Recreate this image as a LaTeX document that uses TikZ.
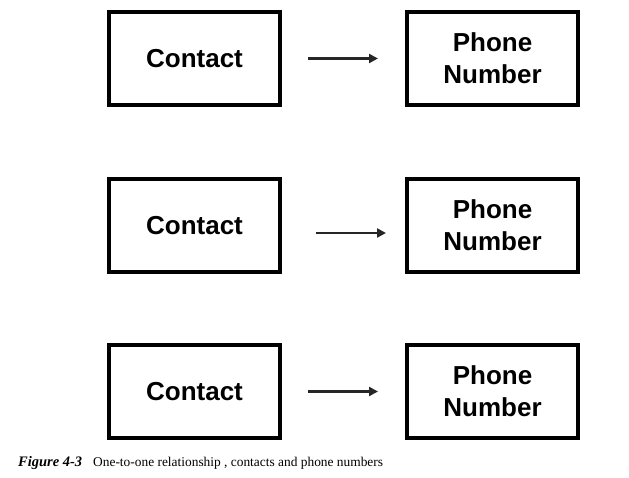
\documentclass[tikz,border=0pt]{standalone}
\usepackage{fontspec}
\setmainfont{Liberation Serif}
\newfontfamily\boxfont{Liberation Sans}
\usetikzlibrary{arrows.meta}
\tikzset{
  entity/.style={draw=black, line width=4pt, minimum width=171pt, minimum height=93pt,
    inner sep=0pt, align=center, font=\boxfont\bfseries\fontsize{26pt}{32pt}\selectfont},
  rel/.style={draw=black!85, line width=2.5pt, -{Triangle[length=9pt,width=9pt]}},
  capnode/.style={anchor=base west, inner sep=0pt}
}
\begin{document}
\begin{tikzpicture}[x=1pt,y=1pt]
\useasboundingbox (0,0) rectangle (629,-478);
% row 1
\node[entity] (c1) at (194.5,-58.5) {Contact};
\node[entity] (p1) at (492.5,-58.5) {\raisebox{-2pt}{Phone}\\\raisebox{-2pt}{Number}};
% row 2
\node[entity] (c2) at (194.5,-225.5) {Contact};
\node[entity] (p2) at (492.5,-225.5) {\raisebox{-2pt}{Phone}\\\raisebox{-2pt}{Number}};
% row 3
\node[entity] (c3) at (194.5,-391.5) {Contact};
\node[entity] (p3) at (492.5,-391.5) {\raisebox{-2pt}{Phone}\\\raisebox{-2pt}{Number}};
% arrows
\draw[rel, shorten <=26pt, shorten >=27pt] (c1) -- (p1);
\draw[rel, shorten <=34pt, shorten >=19pt] ([yshift=-7.5pt]c2.east) -- ([yshift=-7.5pt]p2.west);
\draw[rel, shorten <=26pt, shorten >=27pt] (c3) -- (p3);
% caption
\node[capnode, font=\bfseries\itshape\fontsize{14.5pt}{16pt}\selectfont] (fig) at (18,-466) {Figure 4-3};
\node[capnode, font=\fontsize{13.4pt}{16pt}\selectfont] (cap) at (93,-466) {One-to-one relationship , contacts and phone numbers};
\end{tikzpicture}
\end{document}
